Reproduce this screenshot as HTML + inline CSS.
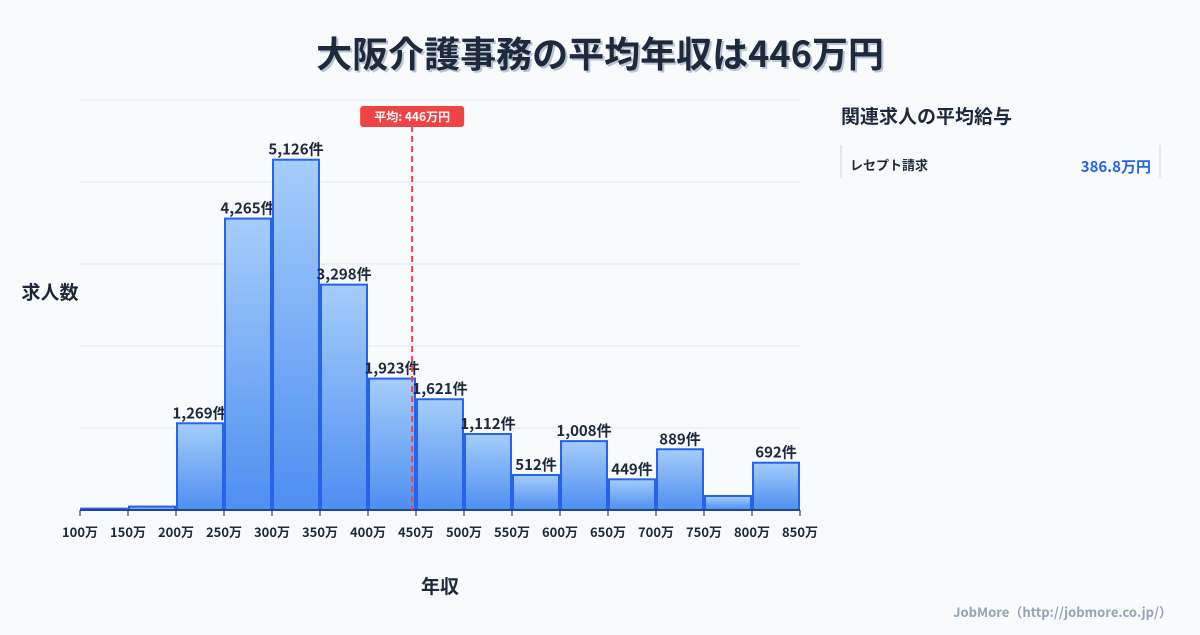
<!DOCTYPE html>
<html><head><meta charset="utf-8">
<style>
html,body{margin:0;padding:0;background:#f8fafc;}
body{width:1200px;height:630px;overflow:hidden;font-family:"Noto Sans CJK JP","Liberation Sans",sans-serif;}
</style></head>
<body>
<svg id="chart" width="1200" height="630" xmlns="http://www.w3.org/2000/svg" style="font-family:'Noto Sans CJK JP','Liberation Sans',sans-serif">
<defs>
<linearGradient id="barg" x1="0" y1="0" x2="0" y2="1">
<stop offset="0" stop-color="#a5cdfb"/><stop offset="1" stop-color="#4d8ff0"/>
</linearGradient>
</defs>
<text x="602" y="69" text-anchor="middle" font-size="36" font-weight="700" fill="#b8c4d4">大阪介護事務の平均年収は446万円</text>
<text x="600" y="67" text-anchor="middle" font-size="36" font-weight="700" fill="#1e293b">大阪介護事務の平均年収は446万円</text>
<g id="grid"></g>
<g id="bars"></g>
<g id="xaxis"></g>
<g id="meanline"></g>
<text x="50" y="299" text-anchor="middle" font-size="19" font-weight="700" fill="#1e293b">求人数</text>
<text x="440" y="593" text-anchor="middle" font-size="19" font-weight="700" fill="#1e293b">年収</text>
<text x="841" y="123" font-size="19" font-weight="700" fill="#1e293b">関連求人の平均給与</text>
<line x1="841" y1="145" x2="841" y2="178" stroke="#cbd5e1" stroke-width="1"/>
<line x1="1160" y1="145" x2="1160" y2="178" stroke="#cbd5e1" stroke-width="1"/>
<text x="850" y="170" font-size="13" font-weight="700" fill="#1e293b">レセプト請求</text>
<text x="1151" y="172" text-anchor="end" font-size="15" font-weight="700" fill="#2563eb">386.8万円</text>
<text x="1172" y="617" text-anchor="end" font-size="13" font-weight="700" fill="#94a3b8">JobMore（http://jobmore.co.jp/）</text>
</svg>
<script>
const binStarts = [100,150,200,250,300,350,400,450,500,550,600,650,700,750,800];
const counts = [20,50,1269,4265,5126,3298,1923,1621,1112,512,1008,449,889,205,692];
const showLabel = [false,false,true,true,true,true,true,true,true,true,true,true,true,false,true];
const xTicks = [100,150,200,250,300,350,400,450,500,550,600,650,700,750,800,850];
const yGrid = [0,1200,2400,3600,4800,6000];
const meanValue = 446;

const NS="http://www.w3.org/2000/svg";
const X0=80,X1=800,Y0=510,Y1=100,XMIN=100,XMAX=850,YMAX=6000;
const xs=v=>X0+(v-XMIN)/(XMAX-XMIN)*(X1-X0);
const ys=v=>Y0-v/YMAX*(Y0-Y1);
function mk(tag,attrs,parent){const e=document.createElementNS(NS,tag);for(const k in attrs)e.setAttribute(k,attrs[k]);parent.appendChild(e);return e;}
const grid=document.getElementById('grid'),bars=document.getElementById('bars'),xa=document.getElementById('xaxis'),ml=document.getElementById('meanline');
yGrid.forEach(v=>{const l=mk('line',{x1:X0,x2:X1,y1:ys(v),y2:ys(v),stroke:'#e2e8f0','stroke-width':1},grid);

});
const bw=xs(150)-xs(100);
binStarts.forEach((b,i)=>{
 const x=xs(b),y=ys(counts[i]);
 const r=mk('rect',{x:x+1,y:y,width:bw-2,height:Y0-y,fill:'url(#barg)',stroke:'#2563eb','stroke-width':2},bars);
 
 
 if(showLabel[i]){
  const t=mk('text',{x:x+bw/2,y:y-5,'text-anchor':'middle','font-size':15,'font-weight':700,fill:'#1e293b'},bars);
  t.textContent=counts[i].toLocaleString('en-US')+'件';
  
  
 }
});
const ax=mk('line',{x1:X0,x2:X1,y1:Y0,y2:Y0,stroke:'#1e293b','stroke-width':1},xa);


xTicks.forEach(v=>{
 const tk=mk('line',{x1:xs(v),x2:xs(v),y1:Y0,y2:Y0+6,stroke:'#1e293b','stroke-width':1},xa);
 
 
 const t=mk('text',{x:xs(v),y:537,'text-anchor':'middle','font-size':13,'font-weight':700,fill:'#1e293b'},xa);
 t.textContent=v+'万';
 
 
});
const mx=xs(meanValue);
const dl=mk('line',{x1:mx,x2:mx,y1:126,y2:Y0,stroke:'#ef4444','stroke-width':2,'stroke-dasharray':'6,4'},ml);


const bg=mk('rect',{x:mx-52,y:106,width:104,height:21,rx:3,fill:'#ef4444'},ml);


const mt=mk('text',{x:mx,y:121,'text-anchor':'middle','font-size':12,'font-weight':700,fill:'#fff'},ml);
mt.textContent='平均: '+meanValue+'万円';


</script>
</body></html>
